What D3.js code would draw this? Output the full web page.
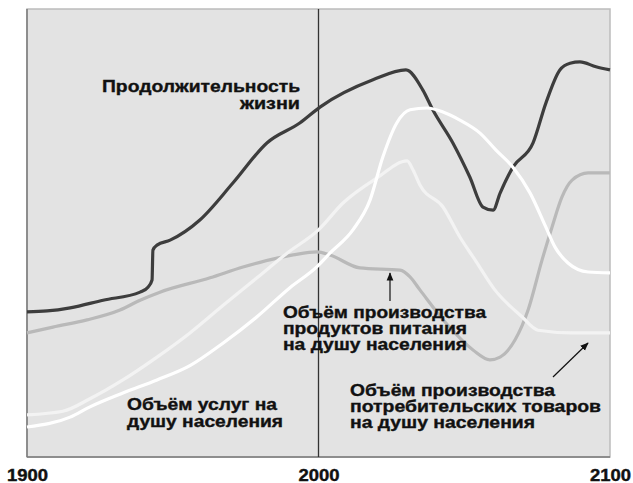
<!DOCTYPE html>
<html><head><meta charset="utf-8">
<script src="https://cdn.jsdelivr.net/npm/d3@7/dist/d3.min.js"></script>
<style>
html,body{margin:0;padding:0;background:#fff;}
svg{display:block;}
text{font-family:"Liberation Sans",Arial,sans-serif;font-weight:bold;fill:#111;}
</style></head>
<body>
<svg id="chart" width="633" height="483"></svg>
<script>
// ---- data (index 0..100, years) ----
const lifeYears = [1900,1906.9,1914.8,1926.1,1938.8,1941.5,1942.9,1943.2,1944.6,1949.1,1959.3,1970.7,1982.3,1993.7,2000.5,2018.7,2030.0,2035.8,2039.2,2046.1,2051.9,2056.4,2059.9,2062.3,2066.7,2073.6,2078.0,2082.8,2086.3,2089.7,2095.2,2100];
const lifeValues = [32.4,32.6,33.3,35.0,36.8,37.9,39.5,46.2,47.3,48.4,52.9,61.2,70.1,74.6,78.1,84.2,86.4,81.9,77.5,70.1,62.5,55.8,55.1,58.9,64.7,70.1,79.0,86.4,87.9,88.2,87.1,86.4];

const foodYears = [1900,1908.9,1920.6,1931.9,1938.8,1945.6,1962.8,1974.1,1985.8,1991.3,1999.5,2003.9,2014.2,2028.0,2031.4,2034.8,2043.7,2053.0,2058.8,2062.3,2067.4,2071.9,2076.7,2080.1,2083.5,2087.0,2092.5,2100];
const foodValues = [27.7,29.0,30.6,32.8,35.0,36.8,40.0,42.4,44.4,45.1,45.8,45.1,42.2,41.7,40.2,37.3,29.9,23.9,21.7,22.3,26.1,32.8,44.0,51.3,58.0,61.8,63.4,63.4];

const goodsYears = [1900,1912.3,1921.6,1932.9,1944.6,1955.9,1967.2,1978.9,1989.2,2000,2008.4,2020.1,2030.4,2032.4,2034.8,2042.7,2048.5,2053.7,2060.5,2069.8,2075.3,2087.0,2100];
const goodsValues = [9.4,10.2,13.0,17.2,22.3,27.7,33.8,40.0,45.5,50.7,56.7,62.3,66.1,64.1,60.7,55.8,49.1,44.0,37.3,31.3,28.3,27.7,27.7];

const servYears = [1900,1914.8,1921.6,1932.9,1944.6,1955.9,1967.2,1978.9,1990.2,1999.5,2003.9,2011.8,2017.7,2022.1,2026.9,2031.4,2037.2,2042.7,2048.5,2055.4,2060.9,2066.7,2072.6,2078.0,2081.1,2085.6,2092.5,2100];
const servValues = [6.7,8.9,11.2,14.3,17.2,20.4,25.4,31.3,37.8,42.5,45.5,50.7,57.4,67.0,74.6,77.5,77.9,77.0,75.2,72.3,68.5,64.7,58.9,51.3,46.9,43.3,41.3,41.1];

const tickYears = [1900, 2000, 2100];
const markerYear = 2000;

const lifeLabel = ["Продолжительность", "жизни"];
const foodLabel = ["Объём производства", "продуктов питания", "на душу населения"];
const goodsLabel = ["Объём производства", "потребительских товаров", "на душу населения"];
const servLabel = ["Объём услуг на", "душу населения"];

// ---- layout ----
const L = 27, R = 610, T = 9, B = 457;
const svg = d3.select("#chart");
const x = d3.scaleLinear().domain([1900, 2100]).range([L, R]);
const y = d3.scaleLinear().domain([0, 100]).range([B, T]);

svg.append("rect").attr("x", L).attr("y", T).attr("width", R - L).attr("height", B - T)
  .attr("fill", "#e3e3e3").attr("stroke", "#bcbcbc").attr("stroke-width", 1.5);
svg.append("line").attr("x1", L).attr("x2", L).attr("y1", T).attr("y2", B).attr("stroke", "#7a7a7a").attr("stroke-width", 1.5);
svg.append("line").attr("x1", L).attr("x2", R).attr("y1", B).attr("y2", B).attr("stroke", "#7a7a7a").attr("stroke-width", 1.5);

svg.append("line").attr("x1", x(markerYear)).attr("x2", x(markerYear)).attr("y1", T).attr("y2", B)
  .attr("stroke", "#333").attr("stroke-width", 1.3);

function series(years, vals){ return years.map((yr,i)=>[yr, vals[i]]); }
const line = d3.line().x(d=>x(d[0])).y(d=>y(d[1])).curve(d3.curveMonotoneX);

svg.append("path").attr("d", line(series(foodYears, foodValues)))
  .attr("fill","none").attr("stroke","#b9b9b9").attr("stroke-width",3.2).attr("stroke-linejoin","round");
svg.append("path").attr("d", line(series(lifeYears, lifeValues)))
  .attr("fill","none").attr("stroke","#3d3d3d").attr("stroke-width",3.2).attr("stroke-linejoin","round");
svg.append("path").attr("d", line(series(goodsYears, goodsValues)))
  .attr("fill","none").attr("stroke","#f3f3f3").attr("stroke-width",3.2).attr("stroke-linejoin","round");
svg.append("path").attr("d", line(series(servYears, servValues)))
  .attr("fill","none").attr("stroke","#ffffff").attr("stroke-width",3.2).attr("stroke-linejoin","round");

// axis
const axis = d3.axisBottom(x).tickValues(tickYears).tickSize(0).tickFormat(d3.format("d"));
const ag = svg.append("g").attr("transform", `translate(0,${B})`).call(axis);
ag.select(".domain").remove();
ag.selectAll("text").attr("dy", null).attr("y", 24)
  .style("font-size","16px").style("font-weight","bold").style("font-family","'Liberation Sans',Arial,sans-serif")
  .attr("fill","#111").attr("stroke","#111").attr("stroke-width",0.4)
  .attr("textLength", 41).attr("lengthAdjust","spacingAndGlyphs");

// labels
function label(lines, xPos, baselines, anchor, widths, size){
  lines.forEach((t,i)=>{
    svg.append("text").attr("x", xPos).attr("y", baselines[i]).attr("text-anchor", anchor)
      .style("font-size", size+"px").attr("stroke","#111").attr("stroke-width",0.35)
      .attr("textLength", widths[i]).attr("lengthAdjust","spacingAndGlyphs").text(t);
  });
}
label(lifeLabel, 300, [92, 109], "end", [198, 60], 17);
label(foodLabel, 283, [318, 334, 350], "start", [203, 184, 184], 16);
label(goodsLabel, 350, [396, 412, 428], "start", [205, 251, 185], 16);
label(servLabel, 127, [410, 427], "start", [150, 156], 16);

// arrows
svg.append("defs").append("marker").attr("id","ah").attr("viewBox","0 0 10 10").attr("refX",9).attr("refY",5)
  .attr("markerWidth",7).attr("markerHeight",7).attr("orient","auto-start-reverse")
  .append("path").attr("d","M0,1 L10,5 L0,9 Z").attr("fill","#111");
svg.append("line").attr("x1",390).attr("y1",301).attr("x2",390).attr("y2",273)
  .attr("stroke","#111").attr("stroke-width",1.2).attr("marker-end","url(#ah)");
svg.append("line").attr("x1",553).attr("y1",377).attr("x2",588).attr("y2",343)
  .attr("stroke","#111").attr("stroke-width",1.2).attr("marker-end","url(#ah)");
</script>
</body></html>
